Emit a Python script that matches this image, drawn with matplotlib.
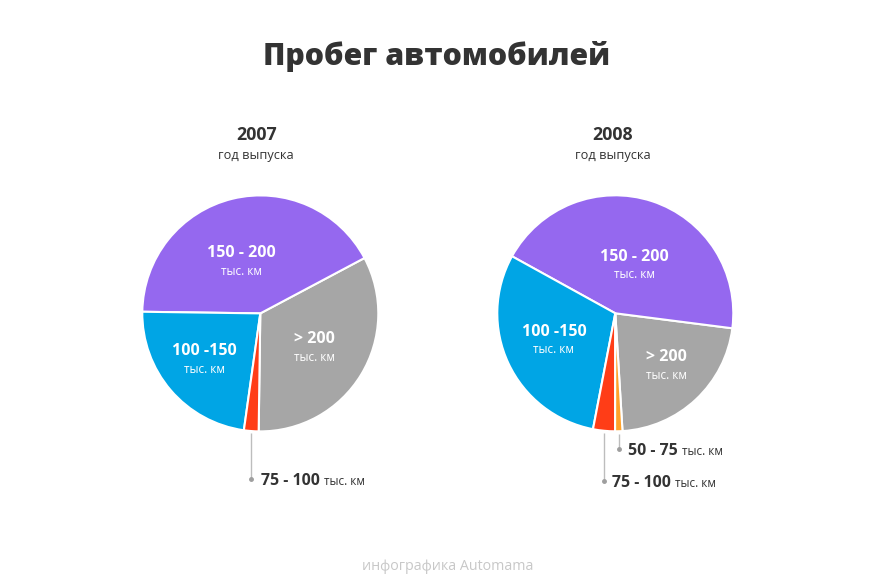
import numpy as np
import matplotlib
matplotlib.use("Agg")
import matplotlib.pyplot as plt

plt.rcParams['font.family'] = ['Open Sans', 'DejaVu Sans']

# ---- data ----
title = "Пробег автомобилей"
footer = "инфографика Automama"
unit = "тыс. км"
years = ["2007", "2008"]
year_sub = "год выпуска"

cats_2007 = ["> 200", "150 - 200", "100 -150", "75 - 100"]
vals_2007 = [33, 42, 23, 2]
cols_2007 = ["#A6A6A6", "#9568EF", "#00A5E5", "#FF3D17"]

cats_2008 = ["> 200", "150 - 200", "100 -150", "75 - 100", "50 - 75"]
vals_2008 = [22, 44, 30, 3, 1]
cols_2008 = ["#A6A6A6", "#9568EF", "#00A5E5", "#FF3D17", "#FFA22A"]

W, H = 874, 588
fig = plt.figure(figsize=(W / 100, H / 100), dpi=100)
fig.patch.set_facecolor("white")

R = 118.0


def make_ax(cx, cy):
    return fig.add_axes([(cx - R) / W, (H - cy - R) / H, 2 * R / W, 2 * R / H])


def draw(ax, vals, cats, cols, start, inner, callouts, year, yx):
    wedges, _ = ax.pie(vals, colors=cols, startangle=start, counterclock=True,
                       radius=1.0, wedgeprops=dict(edgecolor="white", linewidth=1.5))
    ax.set_xlim(-1, 1)
    ax.set_ylim(-1, 1)
    ax.set_aspect("equal")
    ax.axis("off")
    # inner labels
    for cat, (x, y) in inner.items():
        ax.text(x, y, cat, ha="center", va="center", color="white",
                fontsize=11.5, fontweight="bold", clip_on=False)
        ax.text(x, y - 0.155, unit, ha="center", va="center", color="white",
                fontsize=8.5, clip_on=False)
    # callouts
    for cat, (ly, tx) in callouts.items():
        i = cats.index(cat)
        w = wedges[i]
        mid = np.deg2rad((w.theta1 + w.theta2) / 2)
        x0, y0 = np.cos(mid), np.sin(mid)
        ax.plot([x0, x0], [y0 - 0.02, ly], color="#BDBDBD", lw=1.0,
                clip_on=False, solid_capstyle="butt")
        ax.plot([x0], [ly], "o", ms=2.5, color="#9E9E9E", clip_on=False)
        t = ax.text(x0 + tx, ly - 0.02, cat, ha="left", va="center", color="#333333",
                    fontsize=11.4, fontweight="bold", clip_on=False)
        ax.annotate(unit, xy=(1, 0), xycoords=t, xytext=(3, 0.8),
                    textcoords="offset points", ha="left", va="bottom",
                    color="#333333", fontsize=8.5, annotation_clip=False)
    # year heading
    ax.text(yx, 1.51, year, ha="center", va="center", color="#333333",
            fontsize=12.8, fontweight="bold", clip_on=False)
    ax.text(yx, 1.335, year_sub, ha="center", va="center", color="#333333",
            fontsize=9.2, clip_on=False)


ax1 = make_ax(260.3, 313.4)
draw(ax1, vals_2007, cats_2007, cols_2007, -90.8,
     {"150 - 200": (-0.16, 0.51), "> 200": (0.46, -0.22), "100 -150": (-0.47, -0.32)},
     {"75 - 100": (-1.403, 0.085)}, years[0], -0.034)

ax2 = make_ax(615.3, 313.3)
draw(ax2, vals_2008, cats_2008, cols_2008, -86.5,
     {"150 - 200": (0.16, 0.48), "> 200": (0.43, -0.37), "100 -150": (-0.52, -0.156)},
     {"50 - 75": (-1.15, 0.08), "75 - 100": (-1.42, 0.065)}, years[1], -0.02)

fig.text(436.5 / W, 1 - 56 / H, title, ha="center", va="center", color="#333333",
         fontsize=21.8, fontweight="heavy")
fig.text(448 / W, 1 - 566 / H, footer, ha="center", va="center", color="#C8C8C8",
         fontsize=10.3)

fig.savefig("out.png", dpi=100, facecolor="white")
